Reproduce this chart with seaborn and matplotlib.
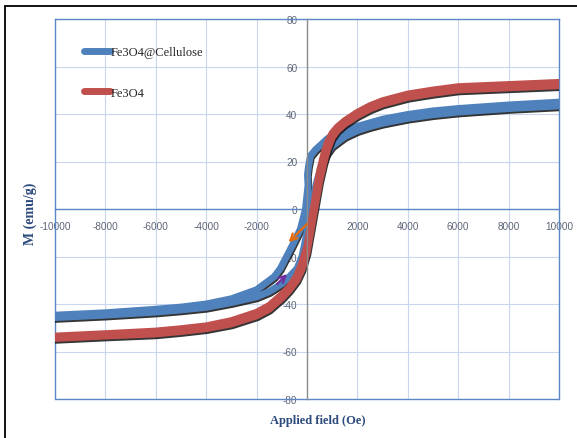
import matplotlib
matplotlib.use("Agg")
import numpy as np
import pandas as pd
import seaborn as sns
import matplotlib.pyplot as plt
import matplotlib.patheffects as pe
from matplotlib.lines import Line2D

# Fe3O4@Cellulose loop: descending branch then ascending branch
cell_h = [10000, 8000, 6000, 5000, 4000, 3000, 2500, 2000, 1500, 1000, 800, 600, 340, 140, 60, 20,
          40, -60, -260, -590, -790, -1054, -1300, -1580, -2000, -3000, -4000, -5000, -6000,
          -8000, -10000,
          -10000, -8000, -6000, -5000, -4000, -3000, -2000, -1500, -1000, -700, -390, -200,
          -100, 0, 100, 250, 400, 600, 800, 1000, 1500, 2000, 2500, 3000, 4000, 5000, 6000,
          8000, 10000]
cell_m = [45, 43.8, 42.3, 41.3, 39.8, 37.8, 36.3, 34.8, 33.2, 31, 29.5, 27.5, 25, 22.4, 18, 14.5,
          10, 0, -8.4, -15.5, -19.6, -25, -28.5, -30.7, -34, -37.8, -40, -41.3, -42.2,
          -43.7, -44.7,
          -45.7, -44.7, -43.4, -42.5, -41.4, -39.4, -37, -34.8, -31.5, -28.5, -25, -20,
          -15, -10, -4, 5, 12, 19, 23.5, 26.5, 30.5, 33, 34.7, 36.1, 38.2, 39.7, 40.8,
          42.3, 43.4]

# Fe3O4 loop
fe_h = [10000, 8000, 6000, 5000, 4000, 3000, 2500, 2000, 1500, 1200, 1000, 800, 650, 500, 400,
        300, 200, 100, 0, -200, -400, -700, -1000, -1500, -2000, -3000, -4000, -5000, -6000,
        -8000, -10000,
        -10000, -8000, -6000, -5000, -4000, -3000, -2000, -1500, -1000, -700, -400, -200, 0,
        100, 200, 300, 400, 500, 650, 800, 1000, 1200, 1500, 2000, 2500, 3000, 4000, 5000,
        6000, 8000, 10000]
fe_m = [53.3, 52.4, 51.5, 50.1, 48.4, 45.6, 43.5, 40.7, 37.2, 34.5, 32, 27.8, 22.5, 16, 10,
        3.5, -3, -9.5, -15.5, -22.5, -28, -32.8, -36, -40.6, -43.5, -47, -49.2, -50.4, -51.4,
        -52.5, -53.5,
        -54.5, -53.5, -52.6, -51.6, -50.4, -48.4, -45, -42.2, -37.6, -34.2, -30, -25.5, -18.5,
        -12.5, -6.5, -0.5, 5.5, 11.5, 18.5, 24.5, 30, 33, 35.8, 39.3, 42.1, 44.2, 47, 48.7,
        50.1, 51, 51.9]

names = ["Fe3O4@Cellulose", "Fe3O4"]
colors = ["#4F81BD", "#C0504D"]

x_ticks = [-10000, -8000, -6000, -4000, -2000, 0, 2000, 4000, 6000, 8000, 10000]
y_ticks = [-80, -60, -40, -20, 0, 20, 40, 60, 80]

# direction arrows drawn by hand on the original
orange_arrow = [(0, -6.3), (-730, -14)]
purple_arrow = [(-1185, -31.6), (-790, -27.4)]

df = pd.concat([
    pd.DataFrame({"H": cell_h, "M": cell_m, "sample": names[0]}),
    pd.DataFrame({"H": fe_h, "M": fe_m, "sample": names[1]}),
])

sns.set_theme(style="white")
plt.rcParams["font.family"] = ["Liberation Sans", "DejaVu Sans"]

fig = plt.figure(figsize=(5.77, 4.39), dpi=100)
ax = fig.add_axes([55 / 577, 1 - 400 / 439, 504 / 577, 380 / 439])

grid_c = "#C9D7EE"
axis_c = "#5B87C5"
tick_c = "#5C6577"
lab_c = "#2C4A7C"
serif = ["Liberation Serif", "DejaVu Serif"]

ax.set_xlim(-10000, 10000)
ax.set_ylim(-80, 80)
ax.set_xticks(x_ticks)
ax.set_yticks(y_ticks)
ax.set_xticklabels(["" if v == 0 else str(v) for v in x_ticks])
ax.set_yticklabels([str(v) for v in y_ticks])
ax.grid(True, color=grid_c, linewidth=0.8)
ax.set_axisbelow(True)

for s in ["top", "right"]:
    ax.spines[s].set_color(axis_c)
    ax.spines[s].set_linewidth(1.0)
ax.spines["left"].set_position(("data", 0))
ax.spines["left"].set_color("#8C8C8C")
ax.spines["left"].set_linewidth(1.0)
ax.spines["left"].set_zorder(4)
ax.spines["bottom"].set_position(("data", 0))
ax.spines["bottom"].set_color(axis_c)
ax.spines["bottom"].set_linewidth(1.0)
ax.axvline(-10000, color=axis_c, lw=1.0, clip_on=False)
ax.axhline(-80, color=axis_c, lw=1.0, clip_on=False)

ax.tick_params(axis="x", length=0, pad=9, labelsize=7.2, labelcolor=tick_c)
ax.tick_params(axis="y", length=0, pad=7, labelsize=7.2, labelcolor=tick_c)

shadow = [pe.SimpleLineShadow(offset=(0.6, -1.3), shadow_color="#111111", alpha=0.85),
          pe.Normal()]

for name, col in zip(names, colors):
    sub = df[df["sample"] == name]
    sns.lineplot(data=sub, x="H", y="M", sort=False, estimator=None, color=col,
                 linewidth=5.0, ax=ax, legend=False, zorder=3,
                 path_effects=shadow)

ax.annotate("", xy=orange_arrow[1], xytext=orange_arrow[0],
            arrowprops=dict(arrowstyle="->", color="#E46C0A", lw=1.6,
                            shrinkA=0, shrinkB=0), zorder=5)
ax.annotate("", xy=purple_arrow[1], xytext=purple_arrow[0],
            arrowprops=dict(arrowstyle="->", color="#7030A0", lw=1.6,
                            shrinkA=0, shrinkB=0), zorder=5)

ax.set_xlabel("")
ax.set_ylabel("")

handles = [Line2D([0], [0], color=c, lw=5, solid_capstyle="round") for c in colors]
fig.legend(handles, names, loc="upper left", bbox_to_anchor=(84 / 577, 1 - 47 / 439),
           frameon=False, handlelength=2.1, handletextpad=0.0, labelspacing=2.3,
           borderpad=0, borderaxespad=0,
           prop={"family": serif, "size": 9})

fig.text(30 / 577, 1 - 214 / 439, "M (emu/g)", rotation=90, ha="center", va="center",
         color=lab_c, fontsize=10, fontweight="bold", family=serif)
fig.text(318 / 577, 1 - 421 / 439, "Applied field (Oe)", ha="center", va="center",
         color=lab_c, fontsize=9, fontweight="bold", family=serif)

# outer frame of the pasted figure
fig.add_artist(Line2D([5 / 577, 1], [1 - 7 / 439, 1 - 7 / 439], color="black", lw=1.3,
                      transform=fig.transFigure))
fig.add_artist(Line2D([5 / 577, 5 / 577], [0, 1 - 7 / 439], color="black", lw=1.3,
                      transform=fig.transFigure))

fig.savefig("out.png", dpi=100)
